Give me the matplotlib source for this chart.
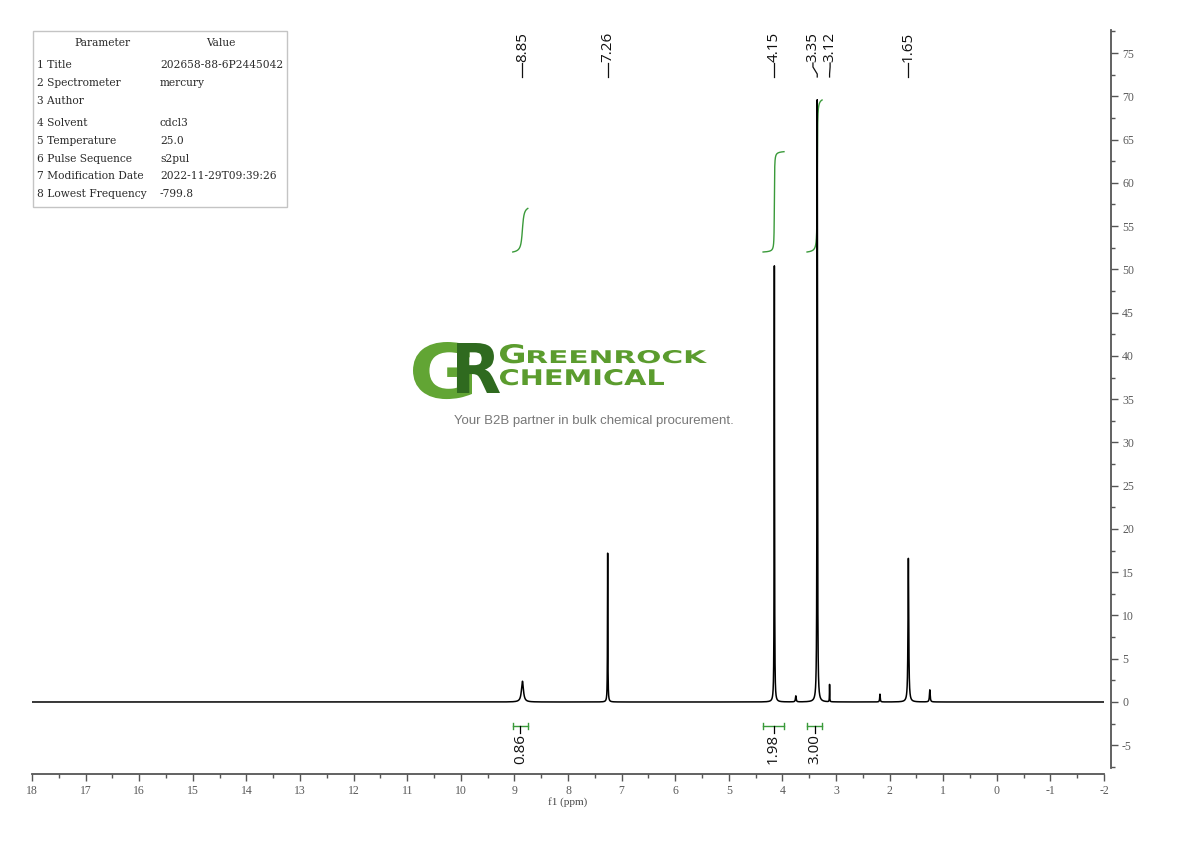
import numpy as np
import matplotlib.pyplot as plt
from matplotlib.textpath import TextPath
from matplotlib.patches import PathPatch, Rectangle
from matplotlib.font_manager import FontProperties
from matplotlib.transforms import Affine2D
from matplotlib.ticker import MultipleLocator

plt.rcParams['axes.unicode_minus'] = False

# ---------------- spectrum peak table ----------------
peak_ppm = [8.85, 7.26, 4.15, 3.75, 3.35, 3.12, 2.18, 1.65, 1.25]
peak_height = [2.4, 17.2, 50.4, 0.7, 69.6, 2.0, 0.9, 16.6, 1.4]
peak_hwhm = [0.022, 0.004, 0.004, 0.008, 0.005, 0.003, 0.006, 0.008, 0.008]

# peak picking labels
label_ppm = [8.85, 7.26, 4.15, 3.35, 3.12, 1.65]
label_text = ["8.85", "7.26", "4.15", "3.35", "3.12", "1.65"]
label_pos = [8.85, 7.26, 4.15, 3.43, 3.11, 1.65]

# integrals
integral_from = [9.03, 4.36, 3.54]
integral_to = [8.75, 3.97, 3.26]
integral_value = [0.86, 1.98, 3.00]

# parameter table
param_names = ["1 Title", "2 Spectrometer", "3 Author", "4 Solvent", "5 Temperature",
               "6 Pulse Sequence", "7 Modification Date", "8 Lowest Frequency"]
param_values = ["202658-88-6P2445042", "mercury", "", "cdcl3", "25.0",
                "s2pul", "2022-11-29T09:39:26", "-799.8"]

# =========================================================
W, H = 1190, 841
fig = plt.figure(figsize=(W / 100, H / 100), dpi=100)

# pixel geometry of the plot
ax_left, ax_right, ax_top, ax_bottom = 32, 1104, 30, 774
y0_px, px_per_unit = 702, 8.653


def px2y(py):
    return (y0_px - py) / px_per_unit


ax = fig.add_axes([ax_left / W, (H - ax_bottom) / H,
                   (ax_right - ax_left) / W, (ax_bottom - ax_top) / H])
ax.set_xlim(18, -2)
ax.set_ylim(px2y(ax_bottom), px2y(ax_top))

x = np.linspace(18, -2, 40001)
y = np.zeros_like(x)
for p, h, w in zip(peak_ppm, peak_height, peak_hwhm):
    y += h / (1 + ((x - p) / w) ** 2)

ax.plot(x, y, color='black', lw=1.1, zorder=3)

# ---------------- integrals ----------------
green = '#3a9a3a'
int_base = px2y(252)
int_unit = (px2y(100) - px2y(252)) / 3.0
for a, b, v in zip(integral_from, integral_to, integral_value):
    m = (x <= a) & (x >= b)
    cum = np.cumsum(y[m])
    cum = cum / cum[-1]
    ax.plot(x[m], int_base + cum * v * int_unit, color=green, lw=1.0, zorder=2)

    yb = px2y(726)
    ax.plot([a, b], [yb, yb], color=green, lw=1.0)
    for e in (a, b):
        ax.plot([e, e], [yb - 0.4, yb + 0.4], color=green, lw=1.0)
    c = (a + b) / 2
    ax.plot([c, c], [yb, px2y(733)], color='black', lw=0.9)
    ax.text(c, px2y(734), f"{v:.2f}", rotation=90, ha='center', va='top',
            fontsize=11, family='Open Sans', color='#111111')

# ---------------- peak labels ----------------
for p, t, lp in zip(label_ppm, label_text, label_pos):
    ax.text(lp, px2y(62), t, rotation=90, ha='center', va='bottom',
            fontsize=11, family='Open Sans', color='#111111')
    ax.plot([p, p, lp, lp], [px2y(77), px2y(74), px2y(67), px2y(63)],
            color='#111111', lw=0.9)

# ---------------- axes styling ----------------
for s in ('top', 'left'):
    ax.spines[s].set_visible(False)
ax.spines['right'].set_position(('outward', 5))
ax.spines['right'].set_bounds(-7.6, px2y(ax_top))
for s in ('right', 'bottom'):
    ax.spines[s].set_color('#555555')
    ax.spines[s].set_linewidth(1.3)

ax.yaxis.tick_right()
ax.yaxis.set_major_locator(MultipleLocator(5))
ax.yaxis.set_minor_locator(MultipleLocator(2.5))
ax.set_yticks(np.arange(-5, 80, 5))
ax.xaxis.set_major_locator(MultipleLocator(1))
ax.xaxis.set_minor_locator(MultipleLocator(0.5))
ax.tick_params(axis='both', which='major', length=5, width=1.0, color='#555555',
               labelsize=8.5, labelcolor='#5a5a5a', pad=3)
ax.tick_params(axis='both', which='minor', length=3, width=1.0, color='#555555')
for lab in ax.get_xticklabels() + ax.get_yticklabels():
    lab.set_family('Liberation Serif')
ax.patch.set_alpha(0)

# ---------------- overlay in pixel coordinates ----------------
ov = fig.add_axes([0, 0, 1, 1], zorder=-1)
ov.set_xlim(0, W)
ov.set_ylim(H, 0)
ov.axis('off')

ov.text(568, 802, "f1 (ppm)", ha='center', va='center', fontsize=8,
        family='Liberation Serif', color='#444444')

# table
ov.add_patch(Rectangle((33, 31), 254, 176, fill=False, edgecolor='#c4c4c4', lw=1.0))
tfont = dict(fontsize=7.7, family='DejaVu Serif', color='#2a2a2a', va='center')
ov.text(102, 43, "Parameter", ha='center', **tfont)
ov.text(221, 43, "Value", ha='center', **tfont)
row_y = [65, 83, 101, 123, 141, 159, 176, 194]
for ry, n, v in zip(row_y, param_names, param_values):
    ov.text(37, ry, n, ha='left', **tfont)
    ov.text(160, ry, v, ha='left', **tfont)


# logo
def word_patch(text, x0, x1, top, baseline, color, weight='normal'):
    fp = FontProperties(family='DejaVu Sans', weight=weight)
    tp = TextPath((0, 0), text, size=1, prop=fp)
    ext = tp.get_extents()
    sx = (x1 - x0) / ext.width
    sy = (baseline - top) / ext.y1
    tr = Affine2D().translate(-ext.x0, 0).scale(sx, -sy).translate(x0, baseline)
    ov.add_patch(PathPatch(tr.transform_path(tp), facecolor=color, edgecolor='none'))


word_patch("G", 413, 472, 342, 398, '#62a534', 'bold')
word_patch("R", 457, 500, 343, 393, '#2f6a1f', 'bold')
word_patch("G", 500, 524, 344, 363, '#5b9c2e', 'bold')
word_patch("REENROCK", 528, 707, 350, 363, '#5b9c2e', 'bold')
word_patch("CHEMICAL", 500, 664, 369, 385, '#5b9c2e', 'bold')
ov.text(594, 421, "Your B2B partner in bulk chemical procurement.", ha='center',
        va='center', fontsize=9.5, family='Liberation Sans', color='#777777')

fig.savefig('out.png', dpi=100)
